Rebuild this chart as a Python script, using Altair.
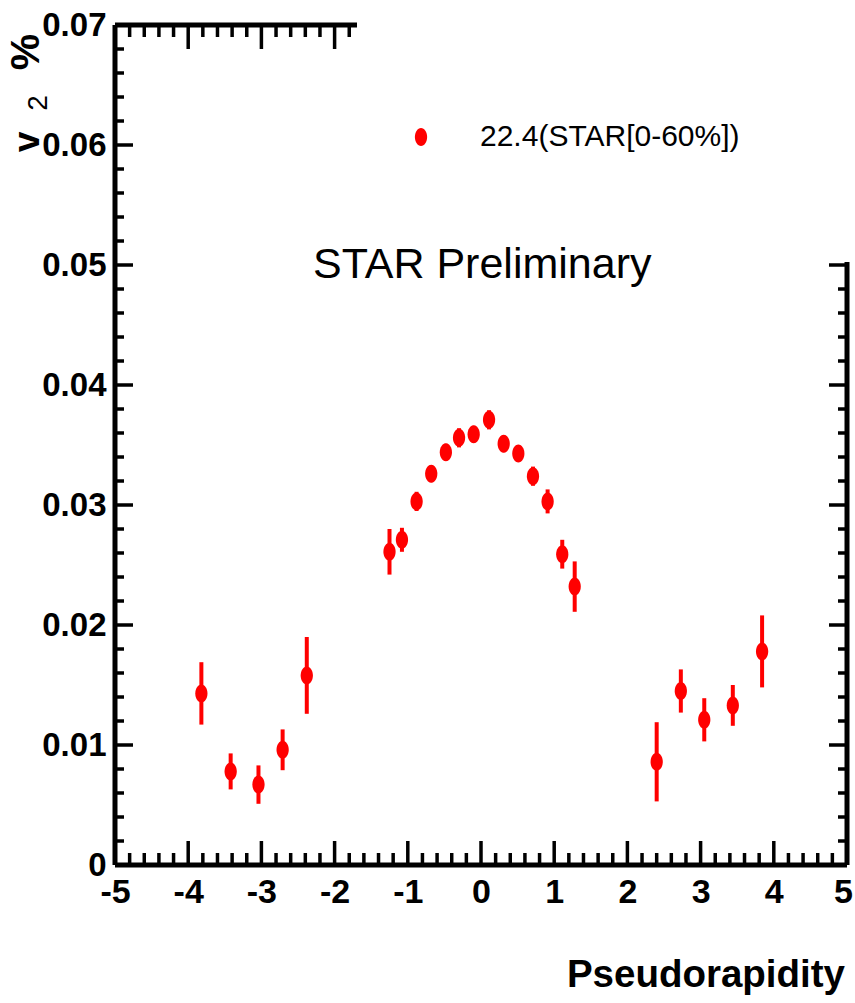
import altair as alt
import pandas as pd

# ---- data ----
eta = [-3.82, -3.42, -3.04, -2.71, -2.38,
       -1.25, -1.08, -0.88, -0.68, -0.48, -0.30, -0.10, 0.11, 0.31, 0.51, 0.71, 0.91, 1.11, 1.28,
       2.40, 2.73, 3.05, 3.44, 3.84]
v2 = [0.0143, 0.0078, 0.0067, 0.0096, 0.0158,
      0.0261, 0.0271, 0.0303, 0.0326, 0.0344, 0.0356, 0.0359, 0.0371, 0.0351, 0.0343, 0.0324, 0.0303, 0.0259, 0.0232,
      0.0086, 0.0145, 0.0121, 0.0133, 0.0178]
err = [0.0026, 0.0015, 0.0016, 0.0017, 0.0032,
       0.0019, 0.0010, 0.0008, 0.0007, 0.0007, 0.0008, 0.0007, 0.0008, 0.0007, 0.0007, 0.0008, 0.0010, 0.0012, 0.0021,
       0.0033, 0.0018, 0.0018, 0.0017, 0.0030]

x_major = [-5, -4, -3, -2, -1, 0, 1, 2, 3, 4, 5]
y_major = [0, 0.01, 0.02, 0.03, 0.04, 0.05, 0.06, 0.07]
x_minor = [round(-5 + 0.2 * i, 2) for i in range(51) if i % 5]
y_minor = [round(0.002 * i, 4) for i in range(36) if i % 5]

legend_label = "22.4(STAR[0-60%])"
x_title = "Pseudorapidity"
watermark = "STAR Preliminary"

W, H = 732, 840
RED = "#ff0000"
FONT = "Liberation Sans"
ELL = "M -0.68 0 A 0.68 1 0 1 0 0.68 0 A 0.68 1 0 1 0 -0.68 0 Z"

df = pd.DataFrame({"eta": eta, "v2": v2,
                   "lo": [a - b for a, b in zip(v2, err)],
                   "hi": [a + b for a, b in zip(v2, err)]})

xs = alt.Scale(domain=[-5, 5], nice=False, zero=False)
ys = alt.Scale(domain=[0, 0.07], nice=False, zero=False)

xaxis = alt.Axis(values=x_major, labelExpr="'' + datum.value", title=None,
                 domain=False, ticks=False, grid=False, labelPadding=10,
                 labelFont=FONT, labelFontWeight="bold", labelFontSize=34,
                 labelColor="black", labelBaseline="top", labelFlush=False,
                 labelOverlap=False,
                 labelOffset={"expr": "datum.value == 5 ? -4 : 0"})
yaxis = alt.Axis(values=y_major,
                 labelExpr="datum.value == 0 ? '0' : format(datum.value, '.2f')",
                 title=None, domain=False, ticks=False, grid=False, labelPadding=9,
                 labelFont=FONT, labelFontWeight="bold", labelFontSize=33,
                 labelColor="black", labelFlush=False, labelOverlap=False)

X = lambda f: alt.X(f, scale=xs, axis=xaxis)
Y = lambda f: alt.Y(f, scale=ys, axis=yaxis)

errbars = alt.Chart(df).mark_rule(color=RED, strokeWidth=4).encode(
    x=X("eta:Q"), y=Y("lo:Q"), y2="hi:Q")
points = alt.Chart(df).mark_point(filled=True, shape=ELL, size=324, color=RED, opacity=1).encode(
    x=X("eta:Q"), y=Y("v2:Q"))

def xticks(vals, y0, y1):
    return alt.Chart(pd.DataFrame({"t": vals})).mark_rule(color="black", strokeWidth=3.5).encode(
        x=X("t:Q"), y=alt.value(y0), y2=alt.value(y1))

def yticks(vals, x0, x1):
    return alt.Chart(pd.DataFrame({"t": vals})).mark_rule(color="black", strokeWidth=3.5).encode(
        y=Y("t:Q"), x=alt.value(x0), x2=alt.value(x1))

top_major = [v for v in x_major if v <= -1.75]
top_minor = [v for v in x_minor if v <= -1.75]
right_major = [v for v in y_major if v <= 0.0502]
right_minor = [v for v in y_minor if v <= 0.0502]

ticks = [
    xticks(x_major, H, H - 24), xticks(x_minor, H, H - 12),
    xticks(top_major, 0, 24), xticks(top_minor, 0, 12),
    yticks(y_major, 0, 18), yticks(y_minor, 0, 9),
    yticks(right_major, W, W - 18), yticks(right_minor, W, W - 9),
]

one = pd.DataFrame({"a": [0]})
def frame(**enc):
    return alt.Chart(one).mark_rule(color="black", strokeWidth=5).encode(**enc)

frames = [
    frame(x=alt.value(0), y=alt.value(0), y2=alt.value(H)),
    frame(x=alt.value(0), x2=alt.value(W), y=alt.value(H)),
    frame(x=alt.value(0), x2=alt.value(242), y=alt.value(0)),
    frame(x=alt.value(W), y=alt.value(237), y2=alt.value(H)),
]

def txt(text, x, y, **kw):
    return alt.Chart(one).mark_text(text=text, color="black", **kw).encode(
        x=alt.value(x), y=alt.value(y))

texts = [
    txt(watermark, 198, 240, align="left", baseline="middle",
        font=FONT, fontSize=43),
    txt(legend_label, 365, 112, align="left", baseline="middle",
        font=FONT, fontSize=30),
    txt(x_title, 730, 962, align="right", baseline="alphabetic",
        font=FONT, fontWeight="bold", fontSize=38.5),
    txt("v", -87, 117, align="center", baseline="middle", angle=270,
        font=FONT, fontWeight="bold", fontSize=37),
    txt("2", -76, 78, align="center", baseline="middle", angle=270,
        font=FONT, fontSize=28),
    txt("%", -88, 27, align="center", baseline="middle", angle=270,
        font=FONT, fontWeight="bold", fontSize=41),
]

legend_pt = alt.Chart(one).mark_point(filled=True, shape=ELL, size=324, color=RED, opacity=1).encode(
    x=alt.value(306), y=alt.value(112))

chart = alt.layer(*frames, *ticks, errbars, points, legend_pt, *texts).properties(
    width=W, height=H,
    autosize=alt.AutoSizeParams(type="none"),
    padding={"left": 115, "top": 25, "right": 8, "bottom": 138},
    background="white",
).configure_view(stroke=None)

chart.save("out.html", embed_options={"renderer": "svg", "actions": False})
